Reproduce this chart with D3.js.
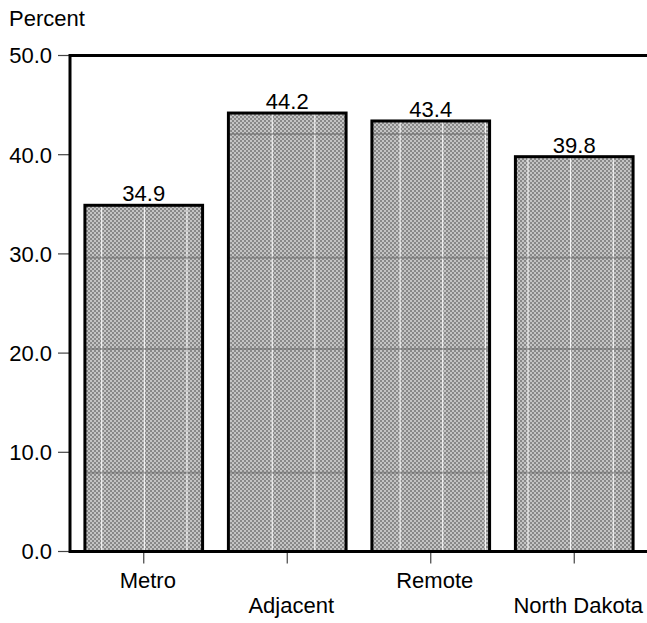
<!DOCTYPE html>
<html>
<head>
<meta charset="utf-8">
<script src="https://cdn.jsdelivr.net/npm/d3@7"></script>
<style>
html,body{margin:0;padding:0;background:#fff;}
svg{display:block;font-family:"Liberation Sans",Arial,sans-serif;}
</style>
</head>
<body>
<svg id="chart" width="647" height="623"></svg>
<script>
const categories = ["Metro", "Adjacent", "Remote", "North Dakota"];
const values = [34.9, 44.2, 43.4, 39.8];
const valueLabels = ["34.9", "44.2", "43.4", "39.8"];
const yTicks = [0, 10, 20, 30, 40, 50];
const yTickLabels = ["0.0", "10.0", "20.0", "30.0", "40.0", "50.0"];
const yTitle = "Percent";

(function () {
const svg = d3.select("#chart");
const W = 647;
const mLeft = 70, mTop = 55.5, mBottom = 551.5;

const x = d3.scaleBand().domain(categories).range([72, 646]).paddingInner(0.18).paddingOuter(0.09);
const y = d3.scaleLinear().domain([0, 50]).range([mBottom, mTop]);

const defs = svg.append("defs");
const chk = defs.append("pattern").attr("id", "checker")
  .attr("patternUnits", "userSpaceOnUse").attr("width", 4).attr("height", 4);
chk.append("rect").attr("width", 4).attr("height", 4).attr("fill", "#c4c4c4");
chk.append("rect").attr("width", 2).attr("height", 2).attr("fill", "#888");
chk.append("rect").attr("x", 2).attr("y", 2).attr("width", 2).attr("height", 2).attr("fill", "#888");
const pw = 42.63, ph = 215;
const lp = defs.append("pattern").attr("id", "lines")
  .attr("patternUnits", "userSpaceOnUse").attr("width", pw).attr("height", ph)
  .attr("x", 101.2).attr("y", 133.5);
lp.append("rect").attr("x", 0).attr("y", 0).attr("width", 1).attr("height", ph).attr("fill", "#fff");
lp.append("rect").attr("x", 0).attr("y", 0).attr("width", pw).attr("height", 1).attr("fill", "#666");
lp.append("rect").attr("x", 0).attr("y", 123.7).attr("width", pw).attr("height", 1).attr("fill", "#666");

const yAxis = svg.append("g");
yAxis.selectAll("line").data(yTicks).join("line")
  .attr("x1", mLeft - 12).attr("x2", mLeft)
  .attr("y1", d => y(d)).attr("y2", d => y(d))
  .attr("stroke", "#444").attr("stroke-width", 1.2);
yAxis.selectAll("text").data(yTicks).join("text")
  .attr("x", mLeft - 18).attr("y", d => y(d)).attr("dy", "0.36em")
  .attr("text-anchor", "end").attr("font-size", 22).attr("fill", "#000")
  .text((d, i) => yTickLabels[i]);

svg.append("text").attr("x", 9).attr("y", 26).attr("font-size", 22).attr("fill", "#000").text(yTitle);

const bars = svg.append("g");
const data = categories.map((c, i) => ({c, v: values[i], l: valueLabels[i]}));
bars.selectAll("rect.b").data(data).join("rect").attr("class", "b")
  .attr("x", d => x(d.c)).attr("width", x.bandwidth())
  .attr("y", d => y(d.v)).attr("height", d => y(0) - y(d.v))
  .attr("fill", "url(#checker)");
bars.selectAll("rect.o").data(data).join("rect").attr("class", "o")
  .attr("x", d => x(d.c)).attr("width", x.bandwidth())
  .attr("y", d => y(d.v)).attr("height", d => y(0) - y(d.v))
  .attr("fill", "url(#lines)");
bars.selectAll("rect.s").data(data).join("rect").attr("class", "s")
  .attr("x", d => x(d.c)).attr("width", x.bandwidth())
  .attr("y", d => y(d.v)).attr("height", d => y(0) - y(d.v))
  .attr("fill", "none").attr("stroke", "#000").attr("stroke-width", 3);
bars.selectAll("text").data(data).join("text")
  .attr("x", d => x(d.c) + x.bandwidth() / 2).attr("y", d => y(d.v) - 4)
  .attr("text-anchor", "middle").attr("font-size", 22).attr("fill", "#000")
  .text(d => d.l);

svg.append("line").attr("x1", mLeft).attr("x2", W + 2).attr("y1", mTop).attr("y2", mTop)
  .attr("stroke", "#000").attr("stroke-width", 3);
svg.append("line").attr("x1", mLeft).attr("x2", W + 2).attr("y1", mBottom).attr("y2", mBottom)
  .attr("stroke", "#000").attr("stroke-width", 3);
svg.append("line").attr("x1", mLeft).attr("x2", mLeft).attr("y1", mTop - 1.5).attr("y2", mBottom + 1.5)
  .attr("stroke", "#000").attr("stroke-width", 3);

const xAxis = svg.append("g");
xAxis.selectAll("line").data(categories).join("line")
  .attr("x1", d => x(d) + x.bandwidth() / 2).attr("x2", d => x(d) + x.bandwidth() / 2)
  .attr("y1", mBottom + 1.5).attr("y2", mBottom + 12)
  .attr("stroke", "#444").attr("stroke-width", 1.2);
xAxis.selectAll("text").data(categories).join("text")
  .attr("x", d => x(d) + x.bandwidth() / 2 + 4)
  .attr("y", (d, i) => i % 2 === 0 ? 588 : 613)
  .attr("text-anchor", "middle").attr("font-size", 22).attr("fill", "#000")
  .text(d => d);
})();
</script>
</body>
</html>
